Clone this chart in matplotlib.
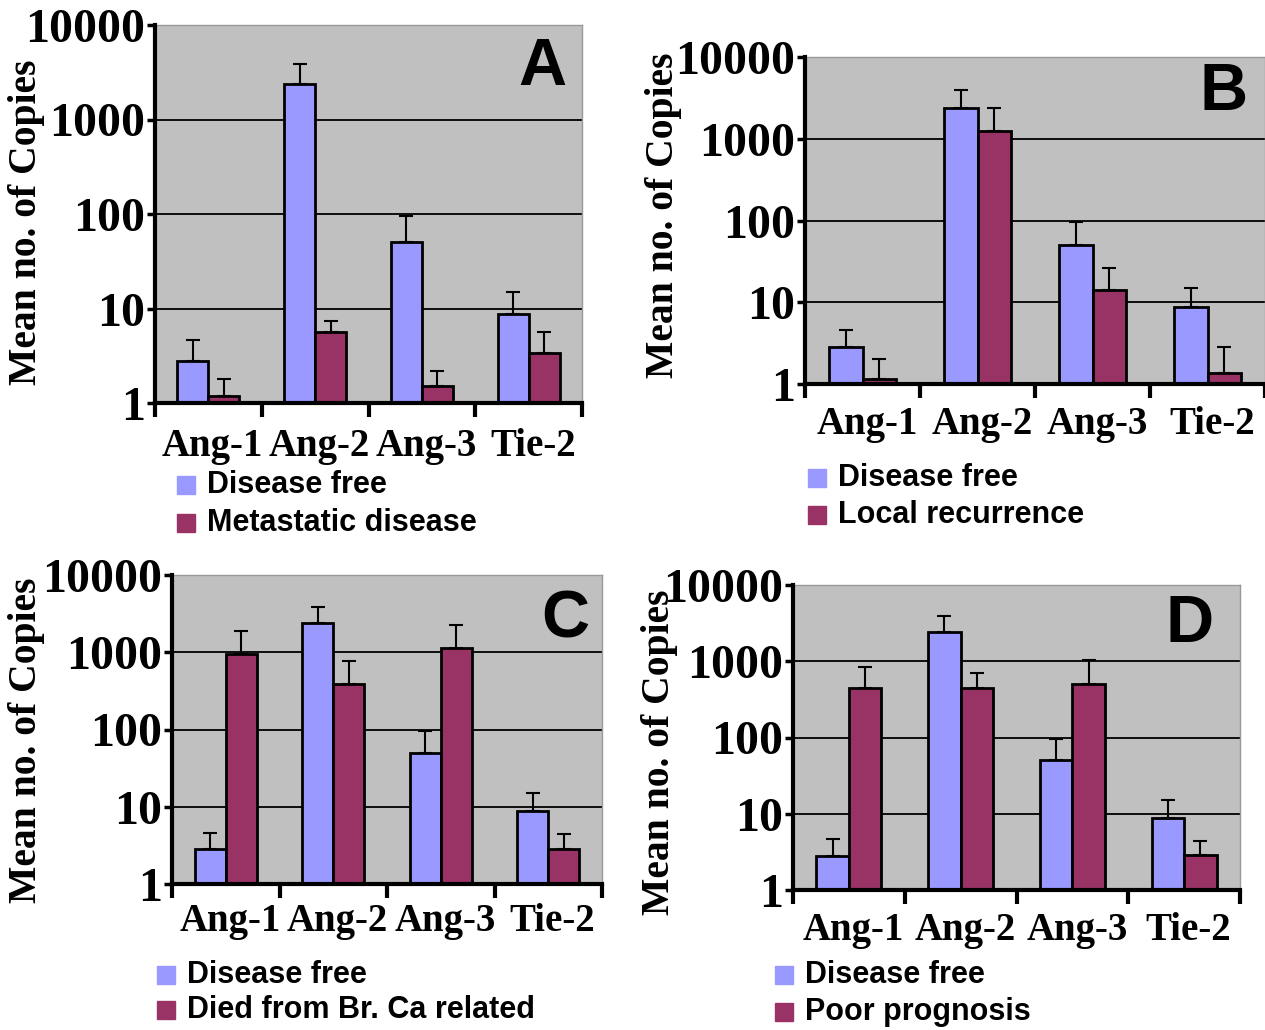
import numpy as np
import matplotlib
matplotlib.use("Agg")
import matplotlib.pyplot as plt
from matplotlib.patches import Rectangle

# ============ Données ============
genes = ["Ang-1", "Ang-2", "Ang-3", "Tie-2"]

free_mean = [2.8, 2400, 50, 8.8]
free_top = [4.6, 3900, 95, 15]

metastatic_mean = [1.2, 5.7, 1.5, 3.4]
metastatic_top = [1.8, 7.3, 2.2, 5.6]

recurrence_mean = [1.15, 1250, 14, 1.37]
recurrence_top = [2.0, 2400, 26, 2.8]

died_mean = [950, 390, 1150, 2.8]
died_top = [1900, 770, 2250, 4.4]

poor_mean = [450, 450, 510, 2.9]
poor_top = [850, 710, 1040, 4.4]

y_ticks = [1, 10, 100, 1000, 10000]

W, H = 1265, 1030
BLUE = "#9999ff"
MAROON = "#993366"
SERIF = "Liberation Serif"
SANS = "Liberation Sans"

fig = plt.figure(figsize=(W / 100, H / 100), dpi=100)


def fx(x):
    return x / W


def fy(y):
    return 1 - y / H


def panel(box, letter, letter_xy, ylab_xy, other_mean, other_top, other_label, leg, xpad):
    left, top, right, bottom = box
    ax = fig.add_axes([fx(left), fy(bottom), fx(right - left), (bottom - top) / H])
    ax.set_facecolor("#c0c0c0")
    ax.set_yscale("log")
    ax.set_ylim(1, 10000)
    ax.set_xlim(-0.5, 3.5)

    x = np.arange(len(genes))
    w = 0.29
    for off, mean, tops, col in [(-w / 2, free_mean, free_top, BLUE),
                                 (w / 2, other_mean, other_top, MAROON)]:
        mean = np.array(mean)
        up = np.array(tops) - mean
        ax.bar(x + off, mean - 1, bottom=1, width=w, color=col,
               edgecolor="black", linewidth=2, zorder=3)
        ax.errorbar(x + off, mean, yerr=[np.zeros_like(up), up], fmt="none",
                    ecolor="black", elinewidth=1.5, capsize=5, capthick=1.5, zorder=2)

    # grille horizontale aux décades
    for t in y_ticks[1:-1]:
        ax.axhline(t, color="black", lw=1.3, zorder=1)

    ax.yaxis.set_major_locator(plt.FixedLocator(y_ticks))
    ax.yaxis.set_minor_locator(plt.NullLocator())
    ax.set_yticklabels([str(t) for t in y_ticks], family=SERIF,
                       fontweight="bold", fontsize=34.5)
    ax.tick_params(axis="y", length=6, width=2.5, pad=1)

    ax.set_xticks(x + 0.04)
    ax.set_xticklabels(genes, family=SERIF, fontweight="bold", fontsize=28)
    ax.set_xticks(np.arange(-0.5, 4, 1), minor=True)
    ax.tick_params(axis="x", which="major", length=0, pad=xpad)
    ax.tick_params(axis="x", which="minor", length=10, width=3)

    for s in ["left", "bottom"]:
        ax.spines[s].set_linewidth(3)
        ax.spines[s].set_zorder(5)
    for s in ["top", "right"]:
        ax.spines[s].set_color("#999999")
        ax.spines[s].set_linewidth(1)

    fig.text(fx(letter_xy[0]), fy(letter_xy[1]), letter, family=SANS,
             fontweight="bold", fontsize=48, ha="center", va="center")
    fig.text(fx(ylab_xy[0]), fy(ylab_xy[1]), "Mean no. of Copies", family=SERIF,
             fontweight="bold", fontsize=28.5, rotation=90, ha="center", va="center")

    # légende manuelle
    sx, r1, r2 = leg
    for yy, col, lab in [(r1, BLUE, "Disease free"), (r2, MAROON, other_label)]:
        fig.patches.append(Rectangle((fx(sx), fy(yy + 9)), 18 / W, 18 / H,
                                     transform=fig.transFigure, color=col))
        fig.text(fx(sx + 30), fy(yy), lab, family=SANS, fontweight="bold",
                 fontsize=22, ha="left", va="center")
    return ax


panel((155, 25, 582, 403), "A", (542, 68), (27, 222),
      metastatic_mean, metastatic_top, "Metastatic disease", (177, 485, 523), 18)
panel((805, 57, 1265, 384), "B", (1224, 93), (663, 215),
      recurrence_mean, recurrence_top, "Local recurrence", (808, 478, 515), 16)
panel((172, 575, 602, 884), "C", (565, 620), (27, 740),
      died_mean, died_top, "Died from Br. Ca related", (157, 975, 1010), 14)
panel((793, 585, 1240, 890), "D", (1190, 625), (660, 752),
      poor_mean, poor_top, "Poor prognosis", (775, 975, 1012), 16)

plt.savefig("out.png", dpi=100)
plt.close()
